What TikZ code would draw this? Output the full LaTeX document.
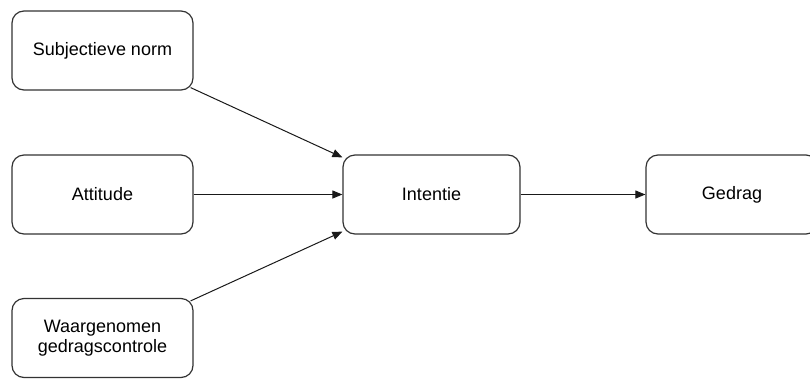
\documentclass[tikz,border=0pt]{standalone}
\usepackage{fontspec}
\setmainfont{Liberation Sans}
\usetikzlibrary{arrows.meta,calc}
\begin{document}
\begin{tikzpicture}[x=1pt,y=-1pt,
  box/.style={draw=black!80, line width=1.2pt, rounded corners=12pt, fill=white,
    minimum width=181pt, minimum height=79pt, inner sep=0pt, align=center,
    font=\fontsize{18pt}{20pt}\selectfont},
  conn/.style={draw=black!90, line width=1pt, -{Triangle[length=10pt,width=8pt]}}]
\useasboundingbox (0,0) rectangle (810,378);
\clip (0,0) rectangle (810,378);
\node[box] (sn) at (102.5,50.5) {Subjectieve norm};
\node[box] (att) at (102.5,194.5) {Attitude};
\node[box] (wg) at (102.5,338) {Waargenomen\\gedragscontrole};
\node[box, minimum width=177pt] (int) at (431.5,194.5) {Intentie};
\node[box, minimum width=172pt] (ged) at (732,194.5) {Gedrag};
\draw[conn] ($(sn.south east)+(-3,-3)$) -- ($(int.north west)+(0,3)$);
\draw[conn] (att.east) -- (int.west);
\draw[conn] ($(wg.north east)+(-3,3)$) -- ($(int.south west)+(0,-3)$);
\draw[conn] (int.east) -- (ged.west);
\end{tikzpicture}
\end{document}
